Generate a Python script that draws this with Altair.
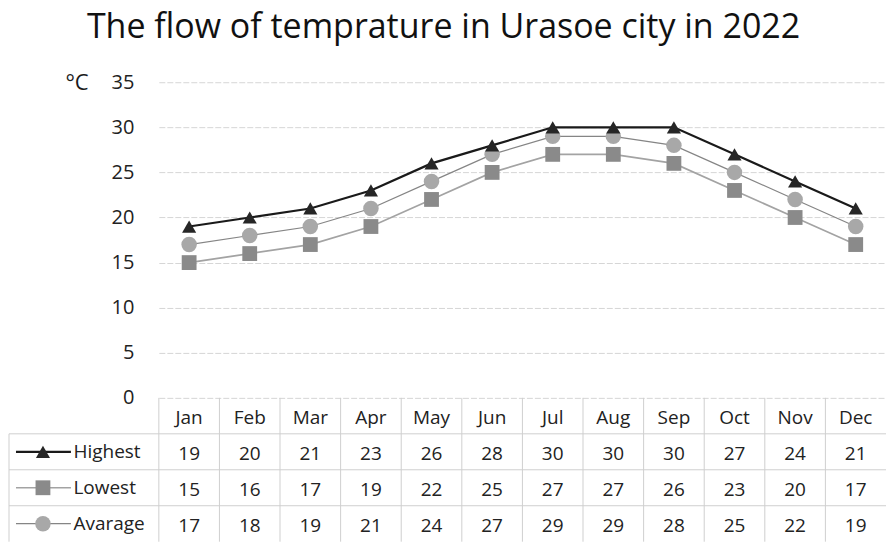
import altair as alt
import pandas as pd

months = ["Jan", "Feb", "Mar", "Apr", "May", "Jun", "Jul", "Aug", "Sep", "Oct", "Nov", "Dec"]
highest = [19, 20, 21, 23, 26, 28, 30, 30, 30, 27, 24, 21]
lowest = [15, 16, 17, 19, 22, 25, 27, 27, 26, 23, 20, 17]
average = [17, 18, 19, 21, 24, 27, 29, 29, 28, 25, 22, 19]
series_names = ["Highest", "Lowest", "Avarage"]
y_ticks = [0, 5, 10, 15, 20, 25, 30, 35]

FONT = "Open Sans"
W = 728
H_TOP = 316
H_TAB = 144

values_by_series = {"Highest": highest, "Lowest": lowest, "Avarage": average}
draw_order = ["Lowest", "Avarage", "Highest"]
rows = []
for s in draw_order:
    for m, v in zip(months, values_by_series[s]):
        rows.append({"month": m, "series": s, "value": v})
df = pd.DataFrame(rows)

point_color = alt.Scale(domain=series_names, range=["#262626", "#8a8a8a", "#a8a8a8"])
line_color = alt.Scale(domain=series_names, range=["#1a1a1a", "#a3a3a3", "#858585"])
width_scale = alt.Scale(domain=series_names, range=[2.2, 1.2, 1.6])
shape_scale = alt.Scale(domain=series_names, range=["triangle-up", "square", "circle"])
size_scale = alt.Scale(domain=series_names, range=[200, 240, 190])

x_top = alt.X("month:N", sort=months, scale=alt.Scale(type="point", padding=0.5), axis=None)
y_top = alt.Y(
    "value:Q",
    scale=alt.Scale(domain=[0, 35], nice=False, zero=True),
    axis=alt.Axis(
        values=y_ticks, title="°C", titleAngle=0, titleX=-94, titleY=0,
        titleAlign="left", titleBaseline="middle", titleFont=FONT, titleFontSize=22,
        titleFontWeight="normal", titleColor="#1a1a1a",
        grid=True, gridColor="#d6d6d6", gridWidth=1, gridDash=[6, 2],
        domain=False, ticks=False, labelPadding=25, labelFont=FONT, labelFontSize=20,
        labelColor="#222222",
    ),
)

lines = alt.Chart(df).mark_line().encode(
    x=x_top, y=y_top,
    color=alt.Color("series:N", scale=line_color, legend=None),
    strokeWidth=alt.StrokeWidth("series:N", scale=width_scale, legend=None),
    detail="series:N",
)
points = alt.Chart(df).mark_point(filled=True, opacity=1).encode(
    x=x_top, y=y_top,
    fill=alt.Fill("series:N", scale=point_color, legend=None),
    shape=alt.Shape("series:N", scale=shape_scale, legend=None),
    size=alt.Size("series:N", scale=size_scale, legend=None),
)
top = alt.layer(lines, points).properties(width=W, height=H_TOP)

# ---- data table ----
row_keys = ["Month"] + series_names
trows = []
for m in months:
    trows.append({"month": m, "row": "Month", "text": m})
for s in series_names:
    for m, v in zip(months, values_by_series[s]):
        trows.append({"month": m, "row": s, "text": str(v)})
tdf = pd.DataFrame(trows)

band_x = alt.Scale(type="band", paddingInner=0, paddingOuter=0)
band_y = alt.Scale(type="band", domain=row_keys, paddingInner=0, paddingOuter=0)
row_axis = alt.Axis(
    title=None, domain=False, ticks=False, grid=False, labelAlign="left",
    labelPadding=86, labelFont=FONT, labelFontSize=19, labelColor="#222222",
    labelExpr="datum.value == 'Month' ? '' : datum.value",
)

def y_row(**kw):
    return alt.Y("row:N", sort=row_keys, scale=band_y, axis=row_axis, **kw)

def x_month(**kw):
    return alt.X("month:N", sort=months, scale=band_x, axis=None, **kw)

cells = alt.Chart(tdf).mark_text(font=FONT, fontSize=19, color="#222222", dy=2).encode(
    x=x_month(), y=y_row(), text="text:N"
)

mdf = pd.DataFrame({"month": months})
vlines = alt.Chart(mdf).mark_rule(color="#cfcfcf", strokeWidth=1).encode(
    x=x_month(bandPosition=0),
    y=alt.value(0), y2=alt.value(H_TAB),
)

sdf = pd.DataFrame({"row": series_names})
hlines = alt.Chart(sdf).mark_rule(color="#cfcfcf", strokeWidth=1).encode(
    y=y_row(bandPosition=0),
    x=alt.value(-150), x2=alt.value(W),
)
left_border = alt.Chart(pd.DataFrame({"row": ["Highest"]})).mark_rule(color="#cfcfcf", strokeWidth=1).encode(
    y=y_row(bandPosition=0),
    y2=alt.value(H_TAB),
    x=alt.value(-150),
)

key_lines = alt.Chart(sdf).mark_rule().encode(
    y=y_row(),
    x=alt.value(-143), x2=alt.value(-88),
    color=alt.Color("row:N", scale=line_color, legend=None),
    strokeWidth=alt.StrokeWidth("row:N", scale=width_scale, legend=None),
)
key_points = alt.Chart(sdf).mark_point(filled=True, opacity=1).encode(
    y=y_row(),
    x=alt.value(-116),
    fill=alt.Fill("row:N", scale=point_color, legend=None),
    shape=alt.Shape("row:N", scale=shape_scale, legend=None),
    size=alt.Size("row:N", scale=size_scale, legend=None),
)

table = alt.layer(vlines, hlines, left_border, key_lines, key_points, cells).properties(width=W, height=H_TAB)

chart = alt.vconcat(top, table, spacing=0, bounds="flush").properties(
    title=alt.TitleParams(
        "The  flow of temprature in Urasoe city in 2022",
        font=FONT, fontSize=34, fontWeight="normal", color="#111111",
        anchor="middle", dx=-4, offset=26,
    ),
    padding={"left": 0, "top": 3, "right": 0, "bottom": 0},
).configure_view(stroke=None)

chart.save("out.html", embed_options={"renderer": "svg", "actions": False})
